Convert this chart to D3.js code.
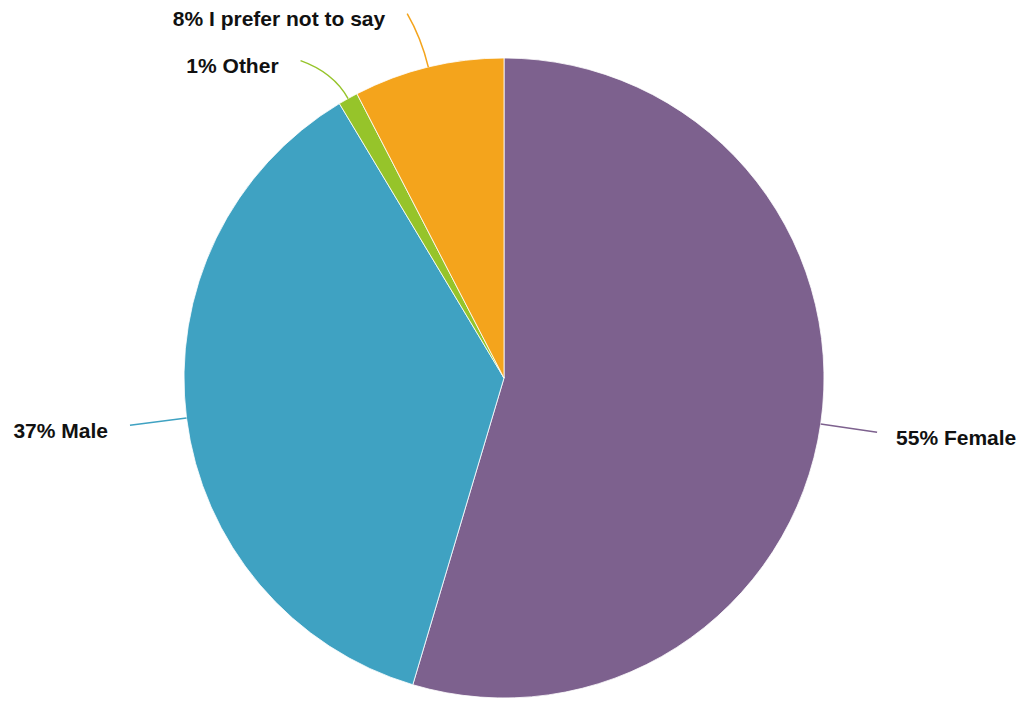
<!DOCTYPE html>
<html><head><meta charset="utf-8">
<script src="https://cdn.jsdelivr.net/npm/d3@7"></script>
<style>html,body{margin:0;padding:0;background:#fff;}svg{display:block;}</style>
</head><body>
<svg id="chart" width="1026" height="702"></svg>
<script>
const categories = ["Female", "Male", "Other", "I prefer not to say"];
const values = [54.6, 36.8, 1.0, 7.6];
const labels = ["55% Female", "37% Male", "1% Other", "8% I prefer not to say"];
const colors = ["#7D618E", "#3FA2C2", "#96C42A", "#F4A41C"];
const labelAngleShift = [0, 0, -3.5, -1.2]; // degrees, label placement tweak

const W = 1026, H = 702;
const cx = 504, cy = 378, r = 320;
const svg = d3.select("#chart");
const g = svg.append("g").attr("transform", `translate(${cx},${cy})`);

const data = categories.map((c, i) => ({ c, v: values[i], i }));
const pie = d3.pie().value(d => d.v).sort(null);
const arcs = pie(data);
const arc = d3.arc().innerRadius(0).outerRadius(r);

g.selectAll("path.slice").data(arcs).enter().append("path")
  .attr("class", "slice")
  .attr("d", arc)
  .attr("fill", d => colors[d.data.i])
  .attr("stroke", "#fff").attr("stroke-width", 0.8);

const pt = (ang, rad) => [rad * Math.sin(ang), -rad * Math.cos(ang)];

arcs.forEach(d => {
  const mid = (d.startAngle + d.endAngle) / 2;
  const endAng = mid + labelAngleShift[d.data.i] * Math.PI / 180;
  const p0 = pt(mid, r);
  const c1 = pt(mid, r + 30);
  const p1 = pt(endAng, r + 57);
  const right = Math.sin(endAng) > 0;
  const col = colors[d.data.i];
  g.append("path")
    .attr("d", `M${p0[0]},${p0[1]}Q${c1[0]},${c1[1]} ${p1[0]},${p1[1]}`)
    .attr("fill", "none").attr("stroke", col).attr("stroke-width", 1.5);
  g.append("text")
    .attr("x", p1[0] + (right ? 19 : -22))
    .attr("y", p1[1] + 5)
    .attr("dy", "0.35em")
    .attr("text-anchor", right ? "start" : "end")
    .attr("font-family", "'Liberation Sans', Arial, sans-serif")
    .attr("font-weight", "bold")
    .attr("font-size", 21)
    .attr("fill", "#111")
    .text(labels[d.data.i]);
});
</script>
</body></html>
